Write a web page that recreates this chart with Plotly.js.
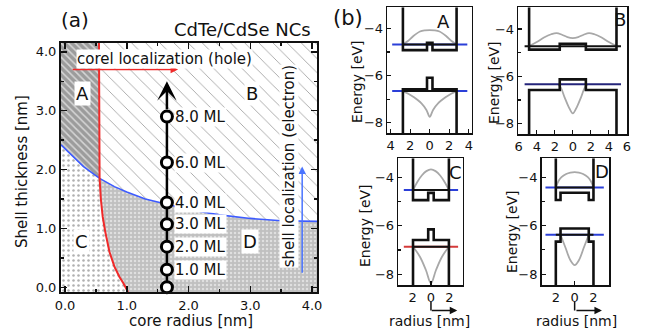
<!DOCTYPE html>
<html><head><meta charset="utf-8">
<script src="https://cdn.plot.ly/plotly-3.0.1.min.js"></script>
<style>html,body{margin:0;padding:0;background:#fff}#chart{width:648px;height:333px}</style>
</head><body><div id="chart"></div>
<script>
// ---------- Panel (a) data ----------
const mainXRange = [-0.065, 4.08];
const mainYRange = [-0.08, 4.15];
const mainTicks = [0, 1, 2, 3, 4];
// red boundary (core localization of hole), top -> bottom
const redX = [0.55, 0.55, 0.56, 0.58, 0.61, 0.65, 0.72, 0.80, 0.88, 0.95, 1.02];
const redY = [4.15, 2.40, 1.85, 1.50, 1.20, 0.95, 0.60, 0.35, 0.18, 0.06, -0.08];
const redCross = 2;
// blue boundary (shell localization of electron), left -> right
const blueX = [-0.065, 0.10, 0.30, 0.56, 0.80, 1.00, 1.30, 1.65, 2.00, 2.50, 3.00, 3.50, 4.08];
const blueY = [2.42, 2.25, 2.05, 1.85, 1.71, 1.62, 1.50, 1.41, 1.32, 1.23, 1.17, 1.13, 1.12];
const blueCross = 3;
// shell growth path
const mlCoreRadius = 1.65;
const mlThickness = [0, 0.30, 0.69, 1.07, 1.44, 2.12, 2.90];
const mlLabels = ['', '1.0 ML', '2.0 ML', '3.0 ML', '4.0 ML', '6.0 ML', '8.0 ML'];
const mlArrowTip = 3.5;
const regionNames = ['A', 'B', 'C', 'D'];
const regionLabelX = [0.28, 3.03, 0.27, 3.0];
const regionLabelY = [3.3, 3.3, 0.78, 0.78];

// ---------- Panel (b) data ----------
const panels = ['A', 'B', 'C', 'D'];
const wallR  = [2.75, 4.85, 1.95, 2.0];
const coreR  = [0.28, 1.45, 0.30, 1.5];
const cbShell = [-4.92, -4.87, -4.94, -4.94];
const cbCore  = [-4.61, -4.62, -4.64, -4.64];
const vbShell = [-6.58, -6.58, -6.59, -6.66];
const vbCore  = [-6.09, -6.13, -6.15, -6.12];
const cbLevel = [-4.68, -4.73, -4.52, -4.43];
const vbLevel = [-6.66, -6.34, -6.87, -6.38];
const levelHalf = [3.85, 5.35, 2.95, 3.1];
const cbLevelColor = ['#2b3fd8', '#111111', '#2b3fd8', '#2b3fd8'];
const vbLevelColor = ['#2b3fd8', '#24247a', '#d43a3a', '#2b3fd8'];
const levelOverlay = [true, false, true, true];
const xRanges = [[-4.35, 4.3], [-6.05, 6.05], [-3.55, 3.45], [-3.5, 3.65]];
const yRanges = [[-8.44, -3.1], [-8.44, -3.08], [-8.45, -3.21], [-8.45, -3.22]];
const xTickVals = [[-4, -2, 0, 2, 4], [-6, -4, -2, 0, 2, 4, 6], [-2, 0, 2], [-2, 0, 2]];
// wavefunctions (gray)
const cbWfX = [
  [-2.75, -2.2, -1.7, -1.0, -0.5, 0, 0.5, 1.0, 1.7, 2.2, 2.75],
  [-4.85, -4.0, -3.2, -2.4, -1.8, -1.2, -0.6, 0, 0.6, 1.2, 1.8, 2.4, 3.2, 4.0, 4.85],
  [-1.95, -1.5, -1.0, -0.5, 0, 0.5, 1.0, 1.5, 1.95],
  [-2.0, -1.7, -1.4, -0.9, -0.45, 0, 0.45, 0.9, 1.4, 1.7, 2.0]
];
const cbWfE = [
  [-4.68, -4.52, -4.33, -4.13, -4.08, -4.07, -4.08, -4.13, -4.33, -4.52, -4.68],
  [-4.72, -4.55, -4.36, -4.22, -4.17, -4.24, -4.34, -4.38, -4.34, -4.24, -4.17, -4.22, -4.36, -4.55, -4.72],
  [-4.52, -4.20, -3.92, -3.74, -3.67, -3.74, -3.92, -4.20, -4.52],
  [-4.42, -4.15, -4.00, -3.87, -3.81, -3.79, -3.81, -3.87, -4.00, -4.15, -4.42]
];
const vbWfX = [
  [-2.75, -2.2, -1.7, -0.85, -0.34, 0, 0.34, 0.85, 1.7, 2.2, 2.75],
  [-1.6, -1.3, -0.9, -0.45, 0, 0.45, 0.9, 1.3, 1.6],
  [-1.95, -1.2, -0.55, 0, 0.55, 1.2, 1.95],
  [-1.5, -1.0, -0.45, 0, 0.45, 1.0, 1.5]
];
const vbWfE = [
  [-6.66, -6.77, -6.90, -7.18, -7.46, -7.75, -7.46, -7.18, -6.90, -6.77, -6.66],
  [-6.34, -6.50, -6.90, -7.30, -7.57, -7.30, -6.90, -6.50, -6.34],
  [-6.87, -7.28, -7.83, -8.38, -7.83, -7.28, -6.87],
  [-6.38, -6.88, -7.43, -7.63, -7.43, -6.88, -6.38]
];

// ---------- layout geometry (pixels -> paper) ----------
const W = 648, H = 333;
const PX = p => p / W, PY = p => 1 - p / H;
const F = 'DejaVu Sans';

const traces = [];
// regions of panel (a)
const [xmin, xmax] = mainXRange, [ymin, ymax] = mainYRange;
const rTopX = redX.slice(0, redCross + 1), rTopY = redY.slice(0, redCross + 1);
const rBotX = redX.slice(redCross), rBotY = redY.slice(redCross);
const bLX = blueX.slice(0, blueCross + 1), bLY = blueY.slice(0, blueCross + 1);
const bRX = blueX.slice(blueCross), bRY = blueY.slice(blueCross);
const rev = a => a.slice().reverse();
const regions = [
  {x: [xmin, ...rTopX, ...rev(bLX)], y: [ymax, ...rTopY, ...rev(bLY)],
   p: {shape: '\\', bgcolor: '#9c9c9c', fgcolor: '#d6d6d6', size: 5, solidity: 0.3}},
  {x: [...rTopX, ...bRX, xmax], y: [...rTopY, ...bRY, ymax],
   p: {shape: '\\', bgcolor: '#ffffff', fgcolor: '#9a9a9a', size: 10, solidity: 0.08}},
  {x: [...bLX, ...rBotX, xmin], y: [...bLY, ...rBotY, ymin],
   p: {shape: '.', bgcolor: '#ffffff', fgcolor: '#b0b0b0', size: 5, solidity: 0.2}},
  {x: [...bRX, xmax, ...rev(rBotX)], y: [...bRY, ymin, ...rev(rBotY)],
   p: {shape: '.', bgcolor: '#c0c0c0', fgcolor: '#e0e0e0', size: 4, solidity: 0.3}}
];
regions.forEach(r => traces.push({type: 'scatter', mode: 'lines', x: r.x, y: r.y, fill: 'toself',
  fillcolor: r.p.bgcolor, fillpattern: r.p, line: {width: 0}, hoverinfo: 'skip', xaxis: 'x', yaxis: 'y'}));
traces.push({type: 'scatter', mode: 'lines', x: blueX, y: blueY, line: {color: '#3d5bff', width: 1.6}, xaxis: 'x', yaxis: 'y'});
traces.push({type: 'scatter', mode: 'lines', x: redX, y: redY, line: {color: '#f02a2a', width: 2}, xaxis: 'x', yaxis: 'y'});
traces.push({type: 'scatter', mode: 'lines+markers', x: mlThickness.map(() => mlCoreRadius), y: mlThickness,
  line: {color: '#000', width: 2.5}, cliponaxis: false,
  marker: {symbol: 'circle', size: 11, color: '#fff', line: {color: '#000', width: 3}}, xaxis: 'x', yaxis: 'y'});

// panel (b) traces
panels.forEach((p, i) => {
  const ax = i + 2;
  const xa = 'x' + ax, ya = 'y' + ax;
  const top = yRanges[i][1], bot = yRanges[i][0];
  const w = wallR[i], c = coreR[i];
  const base = {type: 'scatter', mode: 'lines', xaxis: xa, yaxis: ya, hoverinfo: 'skip'};
  traces.push({...base, x: cbWfX[i], y: cbWfE[i], line: {color: '#a8a8a8', width: 1.8, shape: 'spline'}});
  traces.push({...base, x: vbWfX[i], y: vbWfE[i], line: {color: '#a8a8a8', width: 1.8, shape: 'spline'}});
  const L = levelHalf[i];
  traces.push({...base, x: [-L, L], y: [cbLevel[i], cbLevel[i]], line: {color: cbLevelColor[i], width: 2}});
  traces.push({...base, x: [-L, L], y: [vbLevel[i], vbLevel[i]], line: {color: vbLevelColor[i], width: 2}});
  if (levelOverlay[i]) {
    traces.push({...base, x: [-w, w], y: [cbLevel[i], cbLevel[i]], line: {color: '#111', width: 2}});
    traces.push({...base, x: [-w, w], y: [vbLevel[i], vbLevel[i]], line: {color: '#111', width: 2}});
  }
  traces.push({...base, x: [-w, -w, -c, -c, c, c, w, w],
    y: [top, cbShell[i], cbShell[i], cbCore[i], cbCore[i], cbShell[i], cbShell[i], top],
    line: {color: '#111', width: 2.6}});
  traces.push({...base, x: [-w, -w, -c, -c, c, c, w, w],
    y: [bot, vbShell[i], vbShell[i], vbCore[i], vbCore[i], vbShell[i], vbShell[i], bot],
    line: {color: '#111', width: 2.6}});
});

// ---------- axes ----------
const layout = {
  width: W, height: H, margin: {l: 0, r: 0, t: 0, b: 0},
  paper_bgcolor: '#fff', plot_bgcolor: '#fff', showlegend: false,
  font: {family: F, color: '#111', size: 13},
  xaxis: {domain: [PX(61), PX(317)], range: mainXRange, tickvals: mainTicks, tickformat: '.1f',
    ticks: 'inside', ticklen: 6, tickwidth: 1.5, tickcolor: '#111', mirror: 'ticks',
    showline: true, linewidth: 2, linecolor: '#111', showgrid: false, zeroline: false,
    minor: {dtick: 0.5, tick0: 0, ticks: 'inside', ticklen: 3, tickcolor: '#111', showgrid: false},
    tickfont: {size: 13}, anchor: 'y'},
  yaxis: {domain: [PY(292), PY(43)], range: mainYRange, tickvals: mainTicks, tickformat: '.1f',
    ticks: 'inside', ticklen: 6, tickwidth: 1.5, tickcolor: '#111', mirror: 'ticks',
    showline: true, linewidth: 2, linecolor: '#111', showgrid: false, zeroline: false,
    minor: {dtick: 0.5, tick0: 0, ticks: 'inside', ticklen: 3, tickcolor: '#111', showgrid: false},
    tickfont: {size: 13}, anchor: 'x'},
  annotations: [], shapes: []
};
const smallDom = [
  {x: [387.3, 471.7], y: [7.3, 133]},
  {x: [518.3, 627.3], y: [7.3, 134]},
  {x: [398.3, 462.7], y: [158.3, 285]},
  {x: [541.7, 609], y: [158.3, 285]}
];
panels.forEach((p, i) => {
  const ax = i + 2, d = smallDom[i];
  layout['xaxis' + ax] = {domain: [PX(d.x[0]), PX(d.x[1])], range: xRanges[i], anchor: 'y' + ax,
    tickvals: xTickVals[i], ticktext: xTickVals[i].map(v => String(Math.abs(v))),
    ticks: 'inside', ticklen: 4, tickwidth: 1.2, tickcolor: '#111', showline: true, mirror: true,
    linewidth: 1.6, linecolor: '#111', showgrid: false, zeroline: false, tickfont: {size: 13}};
  layout['yaxis' + ax] = {domain: [PY(d.y[1]), PY(d.y[0])], range: yRanges[i], anchor: 'x' + ax,
    tickvals: [-8, -6, -4], ticks: 'inside', ticklen: 4, tickwidth: 1.2, tickcolor: '#111',
    showline: true, mirror: true, linewidth: 1.6, linecolor: '#111', showgrid: false, zeroline: false,
    minor: {tickvals: [-7, -5], ticks: 'inside', ticklen: 3, tickcolor: '#111', showgrid: false},
    tickfont: {size: 13}};
});

const A = layout.annotations;
const paperText = (text, x, y, size, extra) => A.push(Object.assign({text, x: PX(x), y: PY(y), xref: 'paper', yref: 'paper',
  xanchor: 'center', yanchor: 'middle', showarrow: false, font: {family: F, size, color: '#111'}}, extra || {}));
paperText('(a)', 75, 20, 20);
paperText('CdTe/CdSe NCs', 313, 29, 18, {xanchor: 'right'});
paperText('core radius [nm]', 191, 321, 15);
paperText('Shell thickness [nm]', 22, 172, 15, {textangle: -90});
paperText('(b)', 348, 18, 21);
const energyPos = [[357, 82], [494, 83], [365, 225], [512, 232]];
energyPos.forEach(e => paperText('Energy [eV]', e[0], e[1], 14, {textangle: -90}));
const letterPos = [[443, 21], [620, 20], [455, 172], [602, 171]];
panels.forEach((p, i) => paperText(p, letterPos[i][0], letterPos[i][1], 18));
paperText('radius [nm]', 430, 321, 14);
paperText('radius [nm]', 576, 321, 14);

// panel (a) annotations
const dataText = (text, x, y, size, extra) => A.push(Object.assign({text, x, y, xref: 'x', yref: 'y', showarrow: false,
  xanchor: 'center', yanchor: 'middle', bgcolor: '#fff', borderpad: 1, font: {family: F, size, color: '#111'}}, extra || {}));
regionNames.forEach((n, i) => dataText(n, regionLabelX[i], regionLabelY[i], 18));
mlLabels.forEach((t, i) => { if (t) dataText(t, mlCoreRadius + 0.12, mlThickness[i], 15, {xanchor: 'left', borderpad: 0}); });
// arrows
A.push({x: mlCoreRadius, y: mlArrowTip, ax: mlCoreRadius, ay: mlThickness[mlThickness.length - 1] + 0.1,
  xref: 'x', yref: 'y', axref: 'x', ayref: 'y', text: '', showarrow: true, arrowhead: 3, arrowsize: 1.3,
  arrowwidth: 2.5, arrowcolor: '#000'});
A.push({x: 1.83, y: 3.7, ax: 0.1, ay: 3.7, xref: 'x', yref: 'y', axref: 'x', ayref: 'y', text: '',
  showarrow: true, arrowhead: 2, arrowsize: 1, arrowwidth: 1.5, arrowcolor: '#f02a2a'});
A.push({x: 3.84, y: 2.05, ax: 3.84, ay: 0.22, xref: 'x', yref: 'y', axref: 'x', ayref: 'y', text: '',
  showarrow: true, arrowhead: 2, arrowsize: 1, arrowwidth: 1.5, arrowcolor: '#4a74ff'});
dataText('corel localization (hole)', 1.61, 3.87, 15, {borderpad: 0});
dataText('shell localization (electron)', 3.62, 2.05, 15, {textangle: -90, borderpad: 0});

// radius L-arrows under C and D
[4, 5].forEach((ax, k) => {
  layout.shapes.push({type: 'line', xref: 'x' + ax, yref: 'paper', x0: 0, x1: 0, y0: PY(302), y1: PY(310.5),
    line: {color: '#111', width: 1.5}});
  A.push({x: k === 0 ? 2.86 : 2.9, y: PY(310.5), xref: 'x' + ax, yref: 'paper', ax: -27, ay: 0, text: '',
    showarrow: true, arrowhead: 2, arrowsize: 1, arrowwidth: 1.5, arrowcolor: '#111'});
});

Plotly.newPlot('chart', traces, layout, {displayModeBar: false, staticPlot: true});
</script></body></html>
